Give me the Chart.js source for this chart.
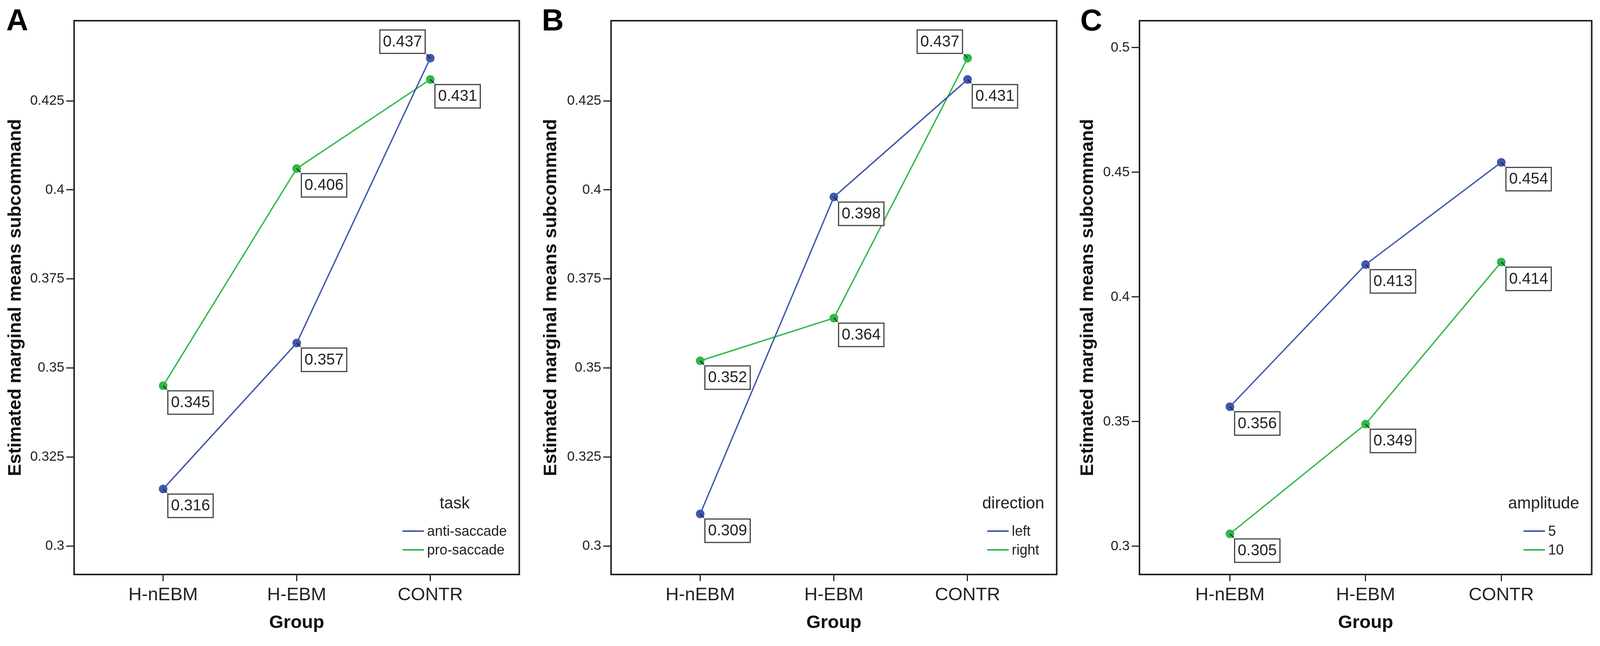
<!DOCTYPE html>
<html>
<head>
<meta charset="utf-8">
<script src="https://cdn.jsdelivr.net/npm/chart.js@4.4.1/dist/chart.umd.min.js"></script>
<style>
  html, body { margin: 0; padding: 0; background: #fff; overflow: hidden; }
  .panel { position: absolute; top: 0; height: 1653px; }
</style>
</head>
<body>
<div class="panel" id="panelA"><canvas id="chartA" height="1653"></canvas></div>
<div class="panel" id="panelB"><canvas id="chartB" height="1653"></canvas></div>
<div class="panel" id="panelC"><canvas id="chartC" height="1653"></canvas></div>
<script>
const FONT = '"Liberation Sans", Arial, sans-serif';
const BLUE = '#3E58AC';
const GREEN = '#2EB848';

// data
const groups = ['H-nEBM', 'H-EBM', 'CONTR'];

const taskNames = ['anti-saccade', 'pro-saccade'];
const antiSaccade = [0.316, 0.357, 0.437];
const proSaccade = [0.345, 0.406, 0.431];

const directionNames = ['left', 'right'];
const leftDir = [0.309, 0.398, 0.431];
const rightDir = [0.352, 0.364, 0.437];

const amplitudeNames = ['5', '10'];
const amp5 = [0.356, 0.413, 0.454];
const amp10 = [0.305, 0.349, 0.414];

const ticksAB = [0.3, 0.325, 0.35, 0.375, 0.4, 0.425];
const ticksC = [0.3, 0.35, 0.4, 0.45, 0.5];

// the figure is 4620 wide; the window may be narrower, so squeeze x only
const SX = Math.min(1, window.innerWidth / 4620);

// boxes, labels, legend and panel letter, SPSS style
const spssDecor = {
    id: 'spssDecor',
    afterDatasetsDraw(chart, args, opts) {
        const ctx = chart.ctx;
        ctx.save();
        ctx.font = '40px ' + FONT;
        chart.data.datasets.forEach((ds, di) => {
            const meta = chart.getDatasetMeta(di);
            meta.data.forEach((pt, i) => {
                const v = ds.data[i].y;
                const others = chart.data.datasets.filter((o, oi) => oi !== di).map(o => o.data[i].y);
                const above = others.some(o => o < v && v - o < 0.015);
                const text = v.toFixed(3);
                const w = ctx.measureText(text).width + 16;
                const h = 60;
                let bx, by;
                if (above) {
                    bx = pt.x - 13 - w;
                    by = pt.y - 12 - h;
                } else {
                    bx = pt.x + 12;
                    by = pt.y + 13;
                }
                const d = above ? -1 : 1;
                ctx.strokeStyle = '#222';
                ctx.lineWidth = 2.5;
                ctx.beginPath();
                ctx.moveTo(pt.x, pt.y);
                ctx.lineTo(pt.x + d * 10, pt.y + d * 10);
                ctx.stroke();

                ctx.fillStyle = '#fff';
                ctx.fillRect(bx, by, w, h);
                ctx.lineWidth = 3;
                ctx.strokeStyle = '#444';
                ctx.strokeRect(bx, by, w, h);
                ctx.fillStyle = '#222';
                ctx.textAlign = 'center';
                ctx.textBaseline = 'middle';
                ctx.fillText(text, bx + w / 2, by + h / 2 + 1);
            });
        });
        ctx.restore();
    },
    afterDraw(chart, args, opts) {
        const ctx = chart.ctx;
        const area = chart.chartArea;
        ctx.save();

        // frame
        ctx.strokeStyle = '#222';
        ctx.lineWidth = 4;
        ctx.strokeRect(area.left, area.top, area.right - area.left, area.bottom - area.top);

        // legend
        const lineLen = 62 * SX;
        ctx.font = '42px ' + FONT;
        const titleW = ctx.measureText(opts.legendTitle).width;
        ctx.font = '36px ' + FONT;
        const names = chart.data.datasets.map(d => d.label);
        const textW = Math.max(...names.map(n => ctx.measureText(n).width));
        const itemsW = lineLen + 8 + textW;
        const blockW = Math.max(titleW, itemsW);
        const cx = area.right - 36 * SX - blockW / 2;
        ctx.fillStyle = '#222';
        ctx.textBaseline = 'middle';
        ctx.textAlign = 'center';
        ctx.font = '42px ' + FONT;
        ctx.fillText(opts.legendTitle, cx, area.bottom - 181);
        const ix = cx - itemsW / 2;
        ctx.font = '36px ' + FONT;
        ctx.textAlign = 'left';
        chart.data.datasets.forEach((ds, di) => {
            const y = area.bottom - 111 + di * 48;
            ctx.strokeStyle = ds.borderColor;
            ctx.lineWidth = 4;
            ctx.beginPath();
            ctx.moveTo(ix, y);
            ctx.lineTo(ix + lineLen, y);
            ctx.stroke();
            ctx.fillStyle = '#222';
            ctx.fillText(ds.label, ix + lineLen + 8, y + 2);
        });

        // panel letter
        ctx.font = 'bold 78px ' + FONT;
        ctx.fillStyle = '#000';
        ctx.textAlign = 'left';
        ctx.textBaseline = 'alphabetic';
        ctx.fillText(opts.letter, opts.letterX, 78);
        ctx.restore();
    }
};

function makeSeries(name, values, color) {
    return {
        label: name,
        data: values.map((v, i) => ({ x: i, y: v })),
        borderColor: color,
        backgroundColor: color,
        pointBackgroundColor: color,
        pointBorderWidth: 0,
        pointRadius: 11,
        borderWidth: 3.5,
        tension: 0
    };
}

function makePanel(id, p) {
    const panel = document.getElementById('panel' + id);
    panel.style.left = (p.left * SX) + 'px';
    panel.style.width = (p.width * SX) + 'px';
    const canvas = document.getElementById('chart' + id);
    canvas.width = Math.round(p.width * SX);

    return new Chart(canvas, {
        type: 'line',
        plugins: [spssDecor],
        data: {
            datasets: [
                makeSeries(p.names[0], p.series[0], BLUE),
                makeSeries(p.names[1], p.series[1], GREEN)
            ]
        },
        options: {
            responsive: false,
            animation: false,
            devicePixelRatio: 1,
            layout: { padding: { left: 0, top: 53, right: p.padRight * SX, bottom: 0 } },
            plugins: {
                legend: { display: false },
                tooltip: { enabled: false },
                spssDecor: { letter: id, letterX: p.letterX * SX, legendTitle: p.legendTitle }
            },
            scales: {
                x: {
                    type: 'linear',
                    min: -2 / 3,
                    max: 8 / 3,
                    afterBuildTicks: s => { s.ticks = groups.map((g, i) => ({ value: i })); },
                    afterFit: s => { s.height = 183; },
                    ticks: {
                        font: { family: FONT, size: 47 },
                        color: '#222',
                        padding: 8,
                        maxRotation: 0,
                        autoSkip: false,
                        callback: v => groups[v]
                    },
                    grid: { drawOnChartArea: false, tickLength: 17, tickWidth: 3, tickColor: '#222' },
                    border: { display: false },
                    title: {
                        display: true,
                        text: 'Group',
                        color: '#111',
                        font: { family: FONT, size: 47, weight: 'bold' },
                        padding: { top: 0, bottom: 31 }
                    }
                },
                y: {
                    min: p.yMin,
                    max: p.yMax,
                    afterBuildTicks: s => { s.ticks = p.yTicks.map(v => ({ value: v })); },
                    afterFit: s => { s.width = p.yWidth * SX; },
                    ticks: {
                        font: { family: FONT, size: 35 },
                        color: '#222',
                        padding: 5,
                        autoSkip: false,
                        callback: v => String(v)
                    },
                    grid: { drawOnChartArea: false, tickLength: 20, tickWidth: 3, tickColor: '#222' },
                    border: { display: false },
                    title: {
                        display: true,
                        text: 'Estimated marginal means subcommand',
                        color: '#111',
                        font: { family: FONT, size: 47, weight: 'bold' },
                        padding: { top: Math.max(0, p.titleX * SX - 28), bottom: 0 }
                    }
                }
            }
        }
    });
}

makePanel('A', {
    left: 0, width: 1520, legendTitle: 'task',
    names: taskNames, series: [antiSaccade, proSaccade],
    yMin: 0.292, yMax: 0.4475, yTicks: ticksAB,
    yWidth: 214, padRight: 21, titleX: 45, letterX: 18
});

makePanel('B', {
    left: 1520, width: 1550, legendTitle: 'direction',
    names: directionNames, series: [leftDir, rightDir],
    yMin: 0.292, yMax: 0.4475, yTicks: ticksAB,
    yWidth: 244, padRight: 19, titleX: 71, letterX: 44
});

makePanel('C', {
    left: 3070, width: 1550, legendTitle: 'amplitude',
    names: amplitudeNames, series: [amp5, amp10],
    yMin: 0.2887, yMax: 0.5108, yTicks: ticksC,
    yWidth: 220, padRight: 24, titleX: 71, letterX: 49
});
</script>
</body>
</html>
